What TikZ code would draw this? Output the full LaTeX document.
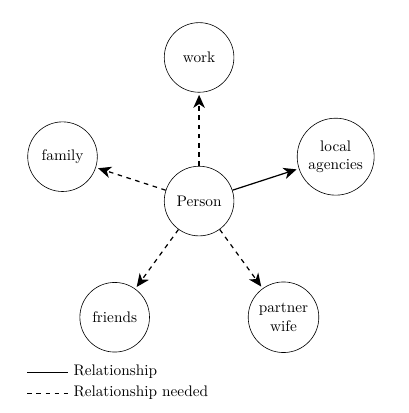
\documentclass[tikz,border=0pt]{standalone}
\usetikzlibrary{arrows.meta}
\begin{document}
\begin{tikzpicture}[
    entity/.style={draw,circle,minimum size=1.6cm,align=center,inner sep=3.33pt},
    link/.style={-{Stealth[length=8.5pt,width=7.5pt,inset=2.5pt]},thick,shorten >=1.5pt},
    needed/.style={link,dashed}
  ]
  \pgfmathsetmacro{\r}{3.3}   % distance to the centre
  \useasboundingbox (-4.575,-4.87) rectangle (4.805,4.62);
  % centre
  \node[entity] (person) at (0,0) {Person};
  % surrounding nodes
  \node[entity] (work) at (90:\r) {work};
  \node[entity] (family) at (162:\r) {family};
  \node[entity] (agencies) at (18:\r) {local\\agencies};
  \node[entity] (friends) at (234:\r) {friends};
  \node[entity] (partner) at (306:\r) {partner\\wife};
  % connections
  \draw[needed] (person) -- (work);
  \draw[needed] (person) -- (family);
  \draw[link] (person) -- (agencies);
  \draw[needed] (person) -- (friends);
  \draw[needed] (person) -- (partner);
  % legend
  \coordinate (solidA) at (-3.95,-3.93);
  \coordinate (dashA) at (-3.95,-4.41);
  \draw (solidA) -- ++(0.94,0) node[right] {Relationship};
  \draw[dashed] (dashA) -- ++(0.94,0) node[right] {Relationship needed};
\end{tikzpicture}
\end{document}
